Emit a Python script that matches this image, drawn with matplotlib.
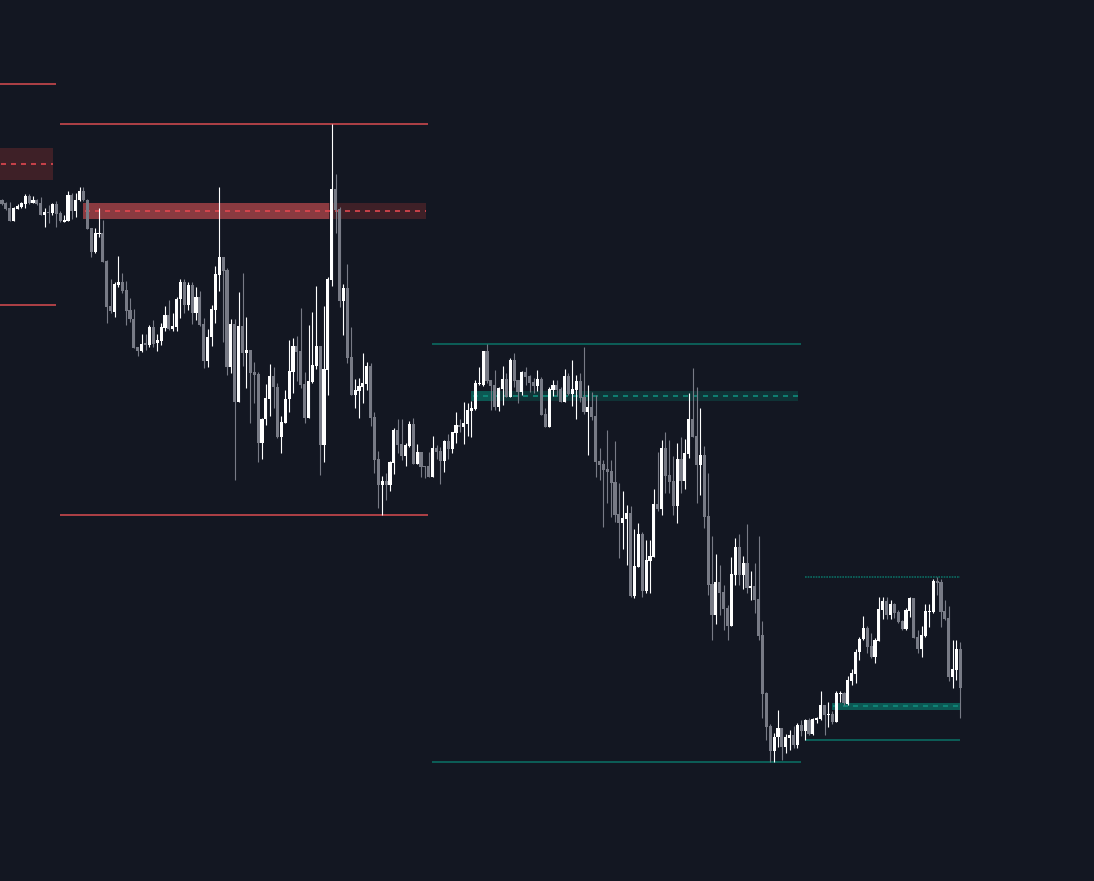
import matplotlib
matplotlib.use("Agg")
import matplotlib.pyplot as plt
import numpy as np

# OHLC (price units, one entry per candle)
opens = [800, 797, 792, 779, 791, 793, 796, 804, 797, 800, 797, 785, 788, 787, 796, 787, 778, 779, 805, 789,
         800, 809, 800, 772, 748, 766, 767, 739, 694, 688, 715, 718, 710, 690, 681, 653, 649, 657, 655, 673,
         657, 659, 672, 685, 671, 673, 701, 718, 695, 715, 687, 703, 676, 639, 663, 690, 725, 743, 730, 633,
         676, 598, 674, 647, 650, 628, 626, 557, 581, 601, 624, 613, 563, 577, 601, 628, 654, 649, 616, 582,
         618, 634, 654, 555, 630, 720, 811, 791, 699, 712, 643, 605, 609, 613, 616, 634, 583, 541, 515, 519,
         515, 537, 570, 556, 544, 554, 576, 536, 548, 534, 534, 523, 552, 549, 539, 559, 551, 567, 575, 573,
         576, 589, 591, 616, 615, 649, 620, 615, 593, 611, 621, 603, 640, 620, 608, 628, 624, 618, 614, 621,
         586, 573, 610, 615, 611, 598, 624, 606, 610, 619, 603, 588, 593, 584, 539, 536, 531, 529, 518, 486,
         477, 481, 487, 404, 433, 466, 409, 439, 443, 496, 491, 552, 525, 519, 494, 541, 519, 546, 581, 564,
         535, 545, 484, 416, 385, 418, 408, 392, 374, 425, 453, 425, 437, 412, 414, 401, 365, 307, 274, 249,
         263, 272, 253, 262, 265, 255, 275, 269, 280, 266, 280, 281, 295, 285, 286, 278, 306, 307, 296, 319,
         326, 348, 361, 372, 354, 343, 359, 390, 399, 385, 396, 388, 379, 371, 389, 402, 363, 351, 364, 388,
         388, 419, 418, 389, 382, 323, 330, 351]
highs = [801, 798, 798, 793, 796, 798, 806, 806, 804, 801, 803, 792, 795, 797, 799, 789, 785, 809, 807, 807,
         813, 813, 801, 772, 772, 792, 780, 740, 721, 718, 744, 727, 719, 702, 691, 653, 666, 666, 675, 680,
         666, 677, 694, 700, 687, 703, 721, 721, 718, 718, 713, 709, 682, 671, 695, 734, 813, 743, 732, 681,
         681, 708, 727, 683, 650, 638, 628, 582, 616, 636, 633, 617, 584, 610, 660, 662, 664, 692, 628, 675,
         688, 714, 654, 694, 723, 876, 826, 793, 716, 736, 673, 621, 622, 647, 638, 637, 588, 549, 524, 527,
         539, 572, 581, 581, 557, 579, 582, 556, 548, 534, 548, 564, 555, 553, 560, 566, 568, 588, 581, 598,
         597, 599, 620, 633, 649, 656, 620, 630, 613, 634, 627, 642, 647, 620, 629, 633, 625, 622, 630, 623,
         592, 613, 620, 620, 613, 631, 627, 640, 625, 627, 653, 615, 608, 605, 552, 540, 570, 540, 559, 517,
         509, 495, 494, 471, 477, 468, 460, 460, 511, 548, 560, 568, 560, 544, 557, 563, 561, 607, 632, 613,
         592, 554, 527, 464, 446, 435, 415, 395, 443, 462, 466, 444, 476, 429, 437, 464, 379, 308, 276, 267,
         290, 272, 266, 270, 274, 277, 280, 281, 282, 282, 283, 309, 295, 298, 289, 309, 309, 308, 324, 331,
         351, 363, 384, 374, 367, 362, 403, 403, 403, 400, 397, 390, 380, 392, 403, 402, 370, 374, 396, 396,
         421, 423, 421, 400, 394, 360, 360, 358]
lows = [795, 790, 779, 779, 791, 792, 792, 796, 797, 795, 785, 773, 777, 785, 773, 778, 778, 779, 781, 783,
        799, 799, 771, 743, 747, 763, 738, 677, 687, 683, 713, 707, 675, 678, 652, 644, 648, 650, 653, 653,
        649, 655, 669, 670, 669, 669, 682, 687, 690, 676, 680, 674, 632, 633, 654, 677, 709, 658, 625, 627,
        520, 598, 634, 612, 577, 597, 538, 541, 575, 584, 592, 562, 547, 577, 588, 607, 619, 612, 577, 582,
        617, 631, 525, 538, 605, 714, 767, 693, 665, 637, 605, 592, 582, 597, 610, 574, 527, 492, 485, 500,
        509, 526, 547, 540, 534, 553, 536, 536, 523, 522, 523, 523, 541, 516, 528, 541, 547, 557, 568, 556,
        564, 563, 590, 615, 614, 617, 590, 590, 589, 595, 603, 603, 613, 597, 605, 615, 608, 607, 609, 585,
        573, 573, 604, 604, 598, 598, 605, 594, 581, 598, 586, 545, 580, 523, 520, 473, 497, 483, 478, 442,
        451, 435, 403, 402, 433, 403, 407, 407, 443, 489, 485, 507, 507, 485, 477, 507, 511, 542, 563, 497,
        505, 472, 405, 360, 376, 385, 370, 360, 374, 415, 415, 411, 407, 400, 387, 360, 282, 260, 238, 238,
        253, 240, 247, 250, 252, 252, 264, 260, 265, 265, 277, 280, 265, 273, 276, 278, 298, 295, 295, 315,
        317, 340, 360, 347, 342, 337, 359, 381, 381, 381, 382, 377, 370, 370, 383, 362, 347, 343, 363, 373,
        387, 405, 373, 380, 319, 312, 320, 282]
closes = [796, 791, 779, 792, 794, 797, 804, 797, 800, 796, 785, 788, 787, 796, 786, 779, 780, 805, 789, 800,
          809, 800, 771, 748, 767, 767, 738, 693, 689, 716, 718, 709, 689, 681, 652, 649, 656, 655, 673, 656,
          660, 673, 685, 671, 674, 701, 718, 695, 715, 687, 703, 675, 639, 663, 691, 726, 743, 729, 633, 676,
          598, 674, 647, 650, 627, 625, 557, 581, 602, 624, 613, 563, 578, 601, 629, 654, 648, 615, 582, 619,
          635, 654, 555, 631, 721, 811, 790, 699, 712, 642, 605, 610, 614, 617, 634, 582, 540, 515, 519, 515,
          538, 570, 555, 544, 555, 576, 536, 548, 533, 533, 523, 552, 548, 539, 559, 551, 568, 575, 573, 577,
          590, 592, 617, 617, 649, 619, 614, 593, 612, 621, 603, 640, 619, 608, 628, 623, 617, 614, 621, 585,
          573, 611, 615, 610, 598, 624, 606, 611, 619, 602, 588, 593, 583, 538, 535, 530, 528, 517, 485, 477,
          482, 487, 404, 434, 466, 409, 440, 444, 496, 491, 552, 524, 518, 494, 541, 519, 547, 581, 563, 535,
          545, 483, 415, 385, 418, 407, 391, 374, 426, 453, 425, 437, 412, 414, 400, 364, 306, 273, 249, 263,
          272, 253, 263, 265, 255, 275, 269, 280, 266, 281, 282, 295, 285, 286, 278, 307, 307, 297, 320, 327,
          348, 361, 372, 353, 343, 360, 391, 399, 385, 396, 387, 378, 371, 390, 402, 362, 351, 365, 389, 389,
          419, 417, 388, 381, 323, 331, 351, 312]

# horizontal levels: (price, first candle, last candle)
red_lines = [(916, -0.6, 13.9), (695, -0.6, 13.9), (876, 14.9, 109.8), (485, 14.9, 109.8)]
teal_lines = [(656, 110.8, 205.9), (238, 110.8, 205.9), (260, 207.0, 246.9)]
teal_dotted = [(423, 207.0, 246.9)]

# zones: (bottom, top, mid, start, mitigated at, end)
red_zones = [(820, 852, 836, -0.6, -0.6, 13.1), (781, 797, 789, 20.9, 84.3, 109.3)]
teal_zones = [(599, 609, 604, 120.9, 126.5, 205.1), (290, 297, 294, 213.9, 246.9, 246.9)]

BG = "#131722"
RED_LINE = "#c9484d"
RED_DASH = "#e0474f"
RED_FILL = "#8a3a40"
RED_FILL_OLD = "#3e2027"
TEAL_LINE = "#0b6b61"
TEAL_DASH = "#0f8c7c"
TEAL_FILL = "#0c5853"
TEAL_FILL_OLD = "#0f3336"
BULL = "#ffffff"
BEAR = "#787b86"

fig = plt.figure(figsize=(10.94, 8.81), dpi=100, facecolor=BG)
ax = fig.add_axes([0, 0, 1, 1], facecolor=BG)

pitch = 3.88
ax.set_xlim(-2 / pitch, (1094 - 2) / pitch)
ax.set_ylim(119, 1000)
ax.axis("off")


def draw_zone(z, fill, fill_old, dash):
    lo, hi, mid, start, mit, end = z
    if mit > start:
        ax.fill_between([start, mit], lo, hi, color=fill, lw=0, zorder=1)
    if end > mit:
        ax.fill_between([mit, end], lo, hi, color=fill_old, lw=0, zorder=1)
    ax.hlines(mid, start + 0.4, end, colors=dash, lw=1.2, linestyles=(0, (3, 3)), zorder=2)


for z in red_zones:
    draw_zone(z, RED_FILL, RED_FILL_OLD, RED_DASH)
for z in teal_zones:
    draw_zone(z, TEAL_FILL, TEAL_FILL_OLD, TEAL_DASH)

for price, a, b in red_lines:
    ax.hlines(price, a, b, colors=RED_LINE, lw=1.2, zorder=2)
for price, a, b in teal_lines:
    ax.hlines(price, a, b, colors=TEAL_LINE, lw=1.2, zorder=2)
for price, a, b in teal_dotted:
    ax.hlines(price, a, b, colors=TEAL_LINE, lw=1.2, linestyles=(0, (1, 0.6)), zorder=2)

o = np.array(opens, dtype=float)
h = np.array(highs, dtype=float)
l = np.array(lows, dtype=float)
c = np.array(closes, dtype=float)
idx = np.arange(len(o))
up = c >= o
colors = np.where(up, BULL, BEAR)

ax.vlines(idx, l, h, colors=colors, lw=0.8, zorder=3)
body_lo = np.minimum(o, c)
body_h = np.maximum(np.abs(c - o), 1.2)
ax.bar(idx, body_h, bottom=body_lo, width=0.8, color=colors, lw=0, zorder=4)

fig.savefig("out.png", dpi=100, facecolor=BG)
